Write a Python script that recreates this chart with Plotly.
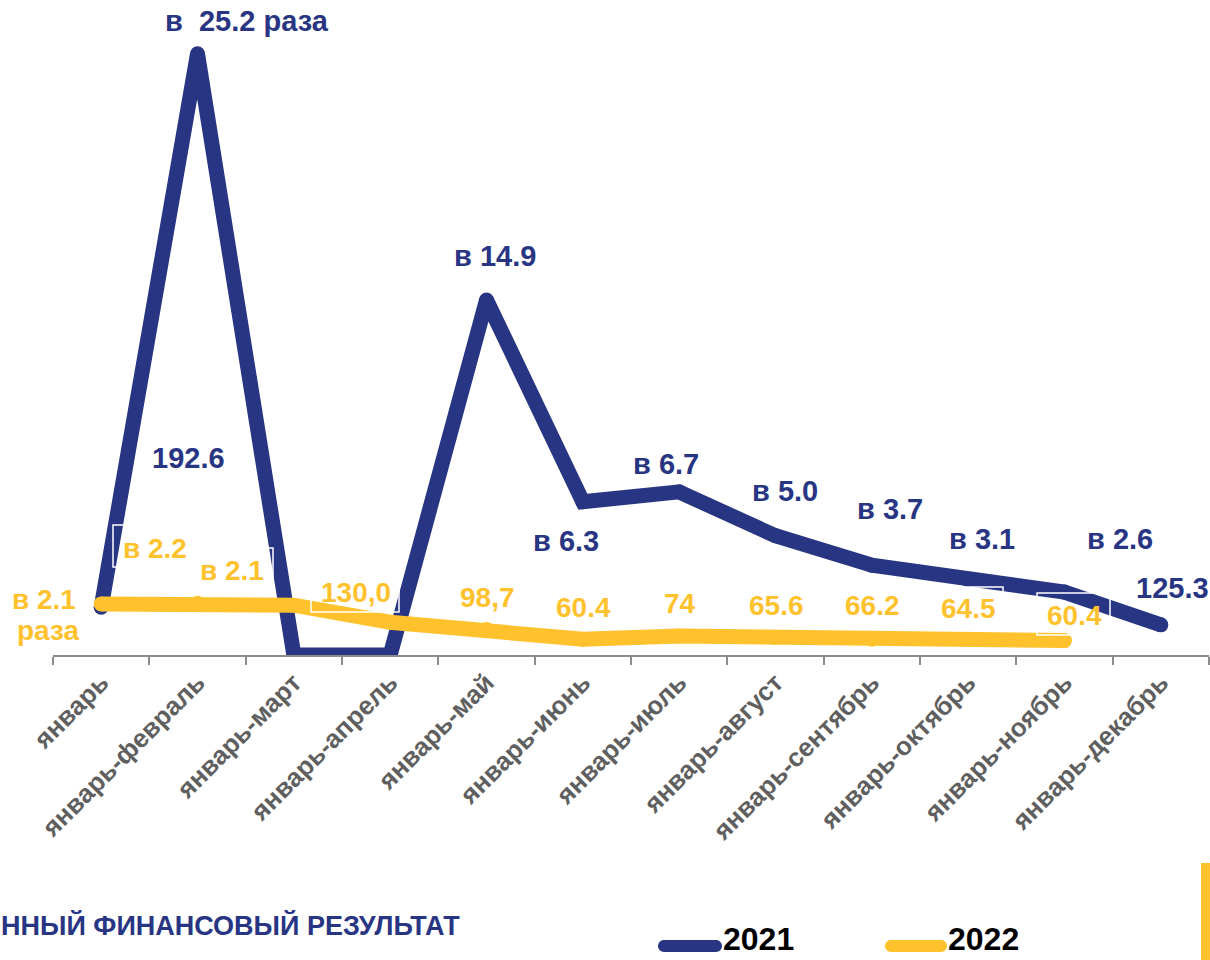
import plotly.graph_objects as go

# ---------------- data ----------------
categories = ["январь", "январь-февраль", "январь-март", "январь-апрель", "январь-май",
              "январь-июнь", "январь-июль", "январь-август", "январь-сентябрь",
              "январь-октябрь", "январь-ноябрь", "январь-декабрь"]
values_2021 = [7.3, 91.8, 0.0, 0.0, 54.2, 23.4, 24.9, 18.2, 13.7, 11.5, 9.6, 4.6]
values_2022 = [7.8, 7.9, 7.6, 5.0, 3.9, 2.4, 2.9, 2.7, 2.4, 2.4, 2.2]
labels_2021 = ["в  25.2 раза", "192.6", "в 14.9", "в 6.3", "в 6.7", "в 5.0",
               "в 3.7", "в 3.1", "в 2.6", "125.3"]
labels_2022 = ["в 2.1", "раза", "в 2.2", "в 2.1", "130,0", "98,7", "60.4", "74",
               "65.6", "66.2", "64.5", "60.4"]
series_names = ["2021", "2022"]
footer_text = "ННЫЙ ФИНАНСОВЫЙ РЕЗУЛЬТАТ"

# ---------------- layout / style ----------------
W, H = 1210, 960
ML, MR, MT, MB = 53, 1, 0, 305
PW, PH = W - ML - MR, H - MT - MB
BLUE = "#283583"
YELLOW = "#FFC22D"
FONT = "Liberation Sans, Arial, sans-serif"
NARROW = "Liberation Sans Narrow, Arial Narrow, sans-serif"


def px(x):
    return (x - ML) / PW


def py(y):
    return (H - MB - y) / PH


# label centre positions (figure pixels)
pos_2021 = [(247, 21), (188, 458), (495, 256), (566, 541), (666, 464), (785, 491),
            (890, 509), (982, 539), (1120, 539), (1172, 588)]
pos_2022 = [(44, 599), (48, 630), (155, 548), (232, 570), (356, 592), (487, 597),
            (583, 607), (680, 603), (776, 605), (872, 605), (968, 608), (1074, 615)]

fig = go.Figure()
fig.add_trace(go.Scatter(x=categories, y=values_2021, name=series_names[0],
                         mode="lines+markers",
                         line=dict(color=BLUE, width=15),
                         marker=dict(color=BLUE, size=15, line=dict(width=0)),
                         showlegend=False))
fig.add_trace(go.Scatter(x=categories[:len(values_2022)], y=values_2022, name=series_names[1],
                         mode="lines+markers",
                         line=dict(color=YELLOW, width=15),
                         marker=dict(color=YELLOW, size=15, line=dict(width=0)),
                         showlegend=False))

annotations = []
for t, (x, y) in zip(labels_2021, pos_2021):
    annotations.append(dict(text=t, x=px(x), y=py(y), xref="paper", yref="paper",
                            xanchor="center", yanchor="middle", showarrow=False,
                            font=dict(family=FONT, size=29, color=BLUE, weight="bold")))
for t, (x, y) in zip(labels_2022, pos_2022):
    annotations.append(dict(text=t, x=px(x), y=py(y), xref="paper", yref="paper",
                            xanchor="center", yanchor="middle", showarrow=False,
                            font=dict(family=FONT, size=28, color=YELLOW, weight="bold")))

# footer text
annotations.append(dict(text=footer_text, x=px(-1), y=py(925), xref="paper", yref="paper",
                        xanchor="left", yanchor="middle", showarrow=False,
                        font=dict(family=FONT, size=27, color=BLUE, weight="bold")))

# manual legend
shapes = []
leg = [(658, 722, BLUE, series_names[0], 721), (885, 947, YELLOW, series_names[1], 946)]


def rounded_bar(x0, x1, yc, h):
    r = h / 2
    k = 0.5523 * r

    def P(x, y):
        return f"{px(x):.6f},{py(y):.6f}"
    d = (f"M{P(x0 + r, yc - r)} L{P(x1 - r, yc - r)} "
         f"C{P(x1 - r + k, yc - r)} {P(x1, yc - k)} {P(x1, yc)} "
         f"C{P(x1, yc + k)} {P(x1 - r + k, yc + r)} {P(x1 - r, yc + r)} "
         f"L{P(x0 + r, yc + r)} "
         f"C{P(x0 + r - k, yc + r)} {P(x0, yc + k)} {P(x0, yc)} "
         f"C{P(x0, yc - k)} {P(x0 + r - k, yc - r)} {P(x0 + r, yc - r)} Z")
    return d


for x0, x1, col, name, tx in leg:
    shapes.append(dict(type="path", path=rounded_bar(x0, x1, 946, 12), xref="paper",
                       yref="paper", fillcolor=col, line=dict(width=0), layer="above"))
    annotations.append(dict(text=name, x=px(tx), y=py(939), xref="paper", yref="paper",
                            xanchor="left", yanchor="middle", showarrow=False,
                            font=dict(family=NARROW, size=32, color="#000000", weight="bold")))

# white label-box outlines visible over the lines
boxes = [(113, 525, 190, 567), (195, 548, 273, 577), (311, 581, 399, 612),
         (938, 587, 1003, 625), (1037, 593, 1110, 635)]
for x0, y0, x1, y1 in boxes:
    shapes.append(dict(type="rect", xref="paper", yref="paper", x0=px(x0), x1=px(x1),
                       y0=py(y1), y1=py(y0), line=dict(color="white", width=1.5),
                       fillcolor="rgba(0,0,0,0)", layer="above"))

# yellow bar at the right edge
shapes.append(dict(type="rect", xref="paper", yref="paper", x0=px(1201), x1=px(1212),
                   y0=py(962), y1=py(863), fillcolor=YELLOW, line=dict(width=0),
                   layer="above"))

fig.update_layout(
    width=W, height=H,
    margin=dict(l=ML, r=MR, t=MT, b=MB, pad=0),
    paper_bgcolor="white", plot_bgcolor="white",
    showlegend=False,
    annotations=annotations,
    shapes=shapes,
    xaxis=dict(type="category", range=[-0.5, 11.5], tickson="boundaries",
               ticks="outside", ticklen=8, tickwidth=2, tickcolor="#8c8c8c",
               showline=True, linecolor="#8c8c8c", linewidth=2, showgrid=False,
               zeroline=False, tickangle=-45,
               tickfont=dict(family=FONT, size=26, color="#5f5f5f", weight="bold"),
               automargin=False, fixedrange=True),
    yaxis=dict(range=[0, 100], visible=False, showgrid=False, zeroline=False,
               fixedrange=True),
)

fig.write_html("out.html", config={"displayModeBar": False},
               post_script="document.body.style.margin='0px';")
